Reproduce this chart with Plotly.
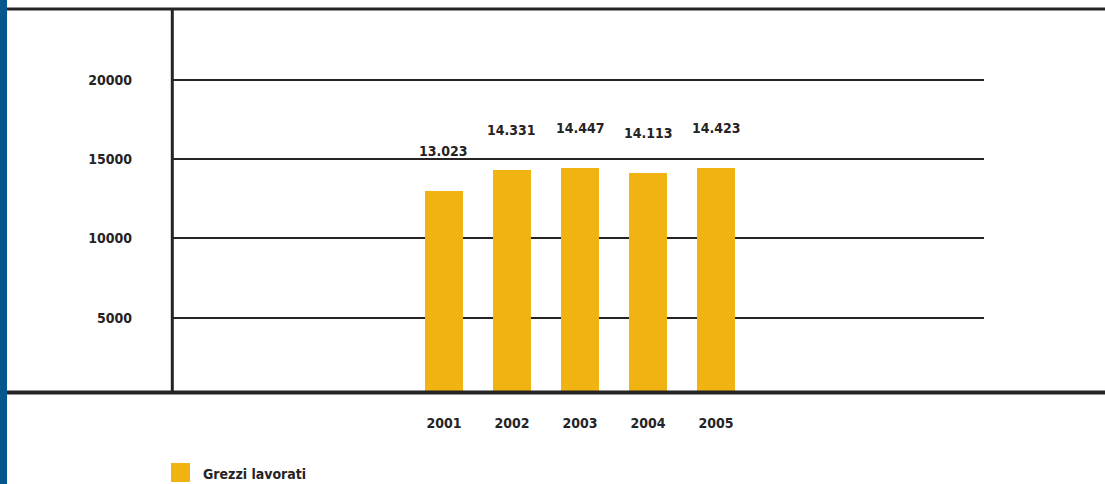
import plotly.graph_objects as go

# Data
years = [2001, 2002, 2003, 2004, 2005]
grezzi_lavorati = [13023, 14331, 14447, 14113, 14423]
series_name = "Grezzi lavorati"
y_ticks = [5000, 10000, 15000, 20000]
y_tick_labels = ["5000", "10000", "15000", "20000"]

# Styling
W, H = 1105, 484
M_L, M_R, M_T, M_B = 173, 121, 10, 92
BAR_COLOR = "#f1b312"
INK = "#262324"
BLUE = "#05578e"
FONT = dict(family="Liberation Sans Narrow, DejaVu Sans Condensed, Arial Narrow, sans-serif",
            size=14, color=INK, weight="bold")

plot_w = W - M_L - M_R
plot_h = H - M_T - M_B


def px_x(p):
    """Pixel column -> paper x."""
    return (p - M_L) / plot_w


def px_y(p):
    """Pixel row (from top) -> paper y."""
    return (H - M_B - p) / plot_h


def it_fmt(v):
    return f"{v:,}".replace(",", ".")


fig = go.Figure()
fig.add_trace(go.Bar(
    x=years, y=grezzi_lavorati, name=series_name,
    marker=dict(color=BAR_COLOR, line=dict(width=0)),
    width=0.56, showlegend=False,
))

# Value labels above the bars
for x, v in zip(years, grezzi_lavorati):
    fig.add_annotation(x=x, y=v, text=it_fmt(v), showarrow=False,
                       yanchor="middle", yshift=40, font=FONT)

shapes = [
    # blue strip on the left edge
    dict(type="rect", xref="paper", yref="paper", x0=px_x(0), x1=px_x(7),
         y0=px_y(H), y1=px_y(0), fillcolor=BLUE, line=dict(width=0), layer="above"),
    # top rule
    dict(type="line", xref="paper", yref="paper", x0=px_x(7), x1=px_x(W),
         y0=px_y(9), y1=px_y(9), line=dict(color=INK, width=3), layer="above"),
    # baseline
    dict(type="line", xref="paper", yref="paper", x0=px_x(7), x1=px_x(W),
         y0=px_y(392.5), y1=px_y(392.5), line=dict(color=INK, width=4), layer="above"),
    # vertical axis rule
    dict(type="line", xref="paper", yref="paper", x0=px_x(172.3), x1=px_x(172.3),
         y0=px_y(392), y1=px_y(9), line=dict(color=INK, width=3), layer="above"),
    # legend swatch
    dict(type="rect", xref="paper", yref="paper", x0=px_x(171), x1=px_x(190),
         y0=px_y(482), y1=px_y(463), fillcolor=BAR_COLOR, line=dict(width=0)),
]

fig.add_annotation(xref="paper", yref="paper", x=px_x(201), y=px_y(474),
                   xanchor="left", yanchor="middle", text=series_name,
                   showarrow=False, font=FONT)

fig.update_layout(
    width=W, height=H,
    margin=dict(l=M_L, r=M_R, t=M_T, b=M_B, pad=0),
    paper_bgcolor="white", plot_bgcolor="white",
    font=FONT,
    shapes=shapes,
    bargap=0,
    xaxis=dict(
        range=[1997.015, 2008.941], tickmode="array", tickvals=years,
        ticktext=[str(y) for y in years], showgrid=False, zeroline=False,
        showline=False, ticks="", ticklabelstandoff=21, tickfont=FONT,
        fixedrange=True,
    ),
    yaxis=dict(
        range=[315, 24416], tickmode="array", tickvals=y_ticks,
        ticktext=y_tick_labels, showgrid=True, gridcolor=INK, gridwidth=2,
        zeroline=False, showline=False, ticks="", ticklabelstandoff=40,
        tickfont=FONT, fixedrange=True,
    ),
)

fig.write_html("out.html", config={"displayModeBar": False})
